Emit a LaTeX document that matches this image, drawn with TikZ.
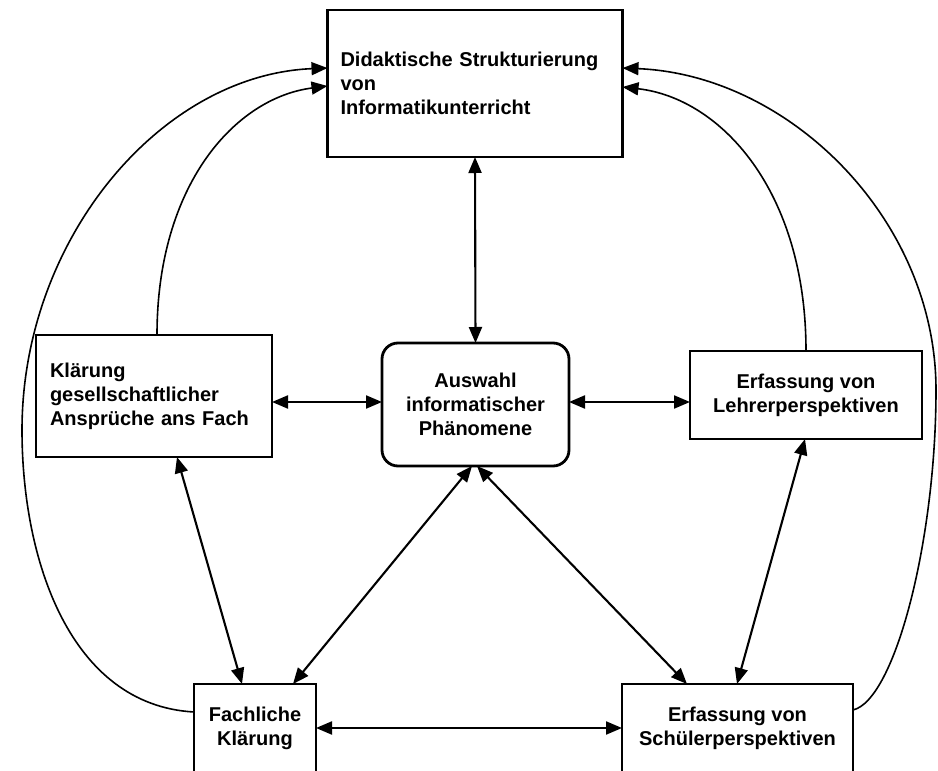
\documentclass[tikz,border=0pt]{standalone}
\usepackage{fontspec}
\setmainfont{Liberation Sans}
\usetikzlibrary{arrows.meta,calc}

\begin{document}
\begin{tikzpicture}[
  x=1pt, y=-1pt,
  box/.style={draw, line width=2.8pt, outer sep=0pt, inner sep=0pt,
    font=\bfseries\fontsize{20}{24}\selectfont},
  tip/.tip={Triangle[length=16pt,width=13pt]},
  conn/.style={line width=2.1pt, tip-tip},
  feedback/.style={line width=1.6pt, -tip}
]
\useasboundingbox (0,0) rectangle (938,771);

% boxes
\node[box, minimum width=295pt, minimum height=147pt, text width=269pt, align=left]
  (top) at (475,83.5) {Didaktische Strukturierung\\von\\Informatikunterricht};
\node[box, minimum width=236pt, minimum height=122pt, text width=208pt, align=left]
  (klar) at (154,396) {Klärung\\gesellschaftlicher\\Ansprüche ans Fach};
\node[box, rounded corners=16pt, minimum width=187pt, minimum height=123pt, align=center]
  (mid) at (475.5,404.5) {Auswahl\\informatischer\\Phänomene};
\node[box, minimum width=232pt, minimum height=88pt, align=center]
  (lehr) at (806,395) {Erfassung von\\Lehrerperspektiven};
\node[box, minimum width=122pt, minimum height=88pt, align=center]
  (fach) at (255,728) {Fachliche\\Klärung};
\node[box, minimum width=231pt, minimum height=88pt, align=center]
  (schu) at (737.5,728) {Erfassung von\\Schülerperspektiven};

% straight two-way connectors
\draw[conn] (top.south) -- (mid.north);
\draw[conn] ($(klar.east)+(0,6)$) -- ($(mid.west)+(0,-2.5)$);
\draw[conn] ($(mid.east)+(0,-2.5)$) -- ($(lehr.west)+(0,7)$);
\draw[conn] ($(klar.south)+(23,0)$) -- ($(fach.north)+(-13,0)$);
\draw[conn] ($(mid.south)+(-3.5,0)$) -- ($(fach.north)+(38,0)$);
\draw[conn] ($(mid.south)+(1.5,0)$) -- ($(schu.north)+(-50.5,0)$);
\draw[conn] ($(lehr.south)+(-1,0)$) -- ($(schu.north)+(-0.5,0)$);
\draw[conn] (fach.east) -- (schu.west);

% curved feedback arrows into the top box
\draw[feedback] ($(fach.west)+(0,-16)$) .. controls (70,705) and (22,560) .. (22,430)
  .. controls (22,240) and (160,75) .. ($(top.west)+(0,-15.5)$);
\draw[feedback] ($(klar.north)+(3,0)$) .. controls (157,185) and (235,98) .. ($(top.west)+(0,2.5)$);
\draw[feedback] (lehr.north) .. controls (806,190) and (720,98) .. ($(top.east)+(0,3.5)$);
\draw[feedback] ($(schu.east)+(0,-18)$) .. controls (895,700) and (936,540) .. (936,390)
  .. controls (936,220) and (790,75) .. ($(top.east)+(0,-15.5)$);
\end{tikzpicture}
\end{document}
